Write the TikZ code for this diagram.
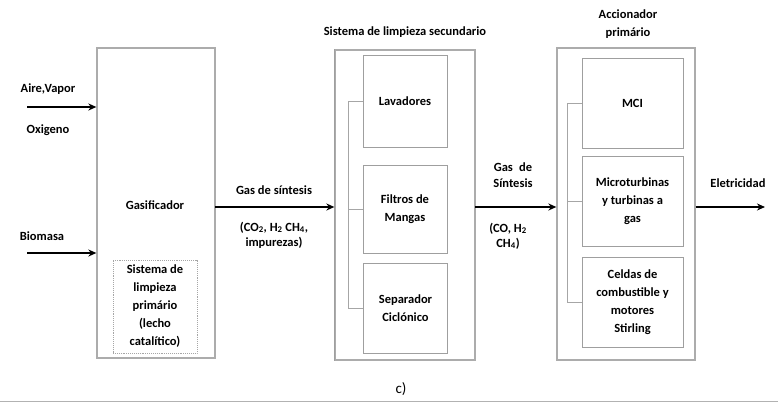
\documentclass[tikz,border=0pt]{standalone}
\usepackage{fontspec}
\setmainfont{Carlito}
\usetikzlibrary{arrows.meta}
\begin{document}
\begin{tikzpicture}[x=1pt,y=-1pt,
  box/.style={draw=gray!65,line width=1.3pt,rectangle,inner sep=0pt},
  inbox/.style={draw=gray!75,line width=0.9pt,rectangle,inner sep=0pt,align=center,font=\fontsize{12.5}{18}\selectfont\bfseries},
  lbl/.style={align=center,inner sep=0pt,font=\fontsize{12.5}{15}\selectfont\bfseries},
  arr/.style={line width=1.4pt,-{Stealth[length=8pt,width=7pt]}},
  brk/.style={draw=gray!70,line width=0.8pt}]
\useasboundingbox (0,0) rectangle (778,404);
% Gasificador
\node[box,minimum width=118pt,minimum height=310pt] (gas) at (156,203) {};
\node[lbl] (gaslbl) at (155,205) {Gasificador};
\node[inbox,draw=gray!70,densely dotted,minimum width=84pt,minimum height=93pt] (lp) at (155,306.5) {Sistema de\\limpieza\\primário\\(lecho\\catalítico)};
% inputs
\coordinate (in1) at (27,107);
\coordinate (in2) at (27,253);
\draw[arr] (in1) -- (in1 -| gas.west);
\draw[arr] (in2) -- (in2 -| gas.west);
\node[lbl] (aire) at (48,89) {Aire,Vapor};
\node[lbl] (oxi) at (48,130) {Oxigeno};
\node[lbl] (bio) at (42,236) {Biomasa};
% second system
\node[box,minimum width=140pt,minimum height=310pt] (sec) at (405,205) {};
\draw[gray!75,line width=1.6pt] (sec.north west) -- (sec.south west);
\node[lbl] (sectit) at (405,32) {Sistema de limpieza secundario};
\node[inbox,minimum width=84pt,minimum height=92pt] (lav) at (405,101) {Lavadores};
\node[inbox,minimum width=84pt,minimum height=88pt] (fil) at (405,209) {Filtros de\\Mangas};
\node[inbox,minimum width=84pt,minimum height=90pt] (sep) at (405.5,308) {Separador\\Ciclónico};
\coordinate (b2) at (348,0);
\draw[brk] (lav.west) -- (lav.west -| b2) -- (sep.west -| b2) -- (sep.west);
\draw[brk] (fil.west) -- (fil.west -| b2);
% arrow 1
\coordinate (g1) at (215,207);
\draw[arr] (g1) -- (g1 -| sec.west);
\node[lbl] (gs1) at (274,190) {Gas de síntesis};
\node[lbl] (gs1b) at (274,235) {(CO\textsubscript{2}, H\textsubscript{2} CH\textsubscript{4},\\impurezas)};
% third system
\node[box,minimum width=138pt,minimum height=312pt] (acc) at (626,204) {};
\node[lbl,font=\fontsize{12.5}{18}\selectfont\bfseries] (acctit) at (628,24) {Accionador\\primário};
\node[inbox,minimum width=101pt,minimum height=90pt] (mci) at (632.5,103) {MCI};
\node[inbox,minimum width=101pt,minimum height=90pt] (mic) at (632.5,201) {Microturbinas\\y turbinas a\\gas};
\node[inbox,minimum width=101pt,minimum height=90pt] (cel) at (632.5,302) {Celdas de\\combustible y\\motores\\Stirling};
\coordinate (b3) at (567,0);
\draw[brk] (mci.west) -- (mci.west -| b3) -- (cel.west -| b3) -- (cel.west);
\draw[brk] (mic.west) -- (mic.west -| b3);
% arrow 2
\coordinate (g2) at (475,207);
\draw[arr] (g2) -- (g2 -| acc.west);
\node[lbl,font=\fontsize{12.5}{16}\selectfont\bfseries] (gs2) at (513,175) {Gas\enspace de\\Síntesis};
\node[lbl] (gs2b) at (508,236) {(CO, H\textsubscript{2}\\CH\textsubscript{4})};
% output
\coordinate (e1) at (765,207);
\draw[arr] (acc.east |- e1) -- (e1);
\node[lbl] (ele) at (738,183) {Eletricidad};
% caption
\node[font=\fontsize{15}{17}\selectfont,inner sep=0pt] (cap) at (401,389) {c)};
\coordinate (l1) at (0,401);
\coordinate (l2) at (778,401);
\draw[gray!60,line width=1pt] (l1) -- (l2);
\end{tikzpicture}
\end{document}
